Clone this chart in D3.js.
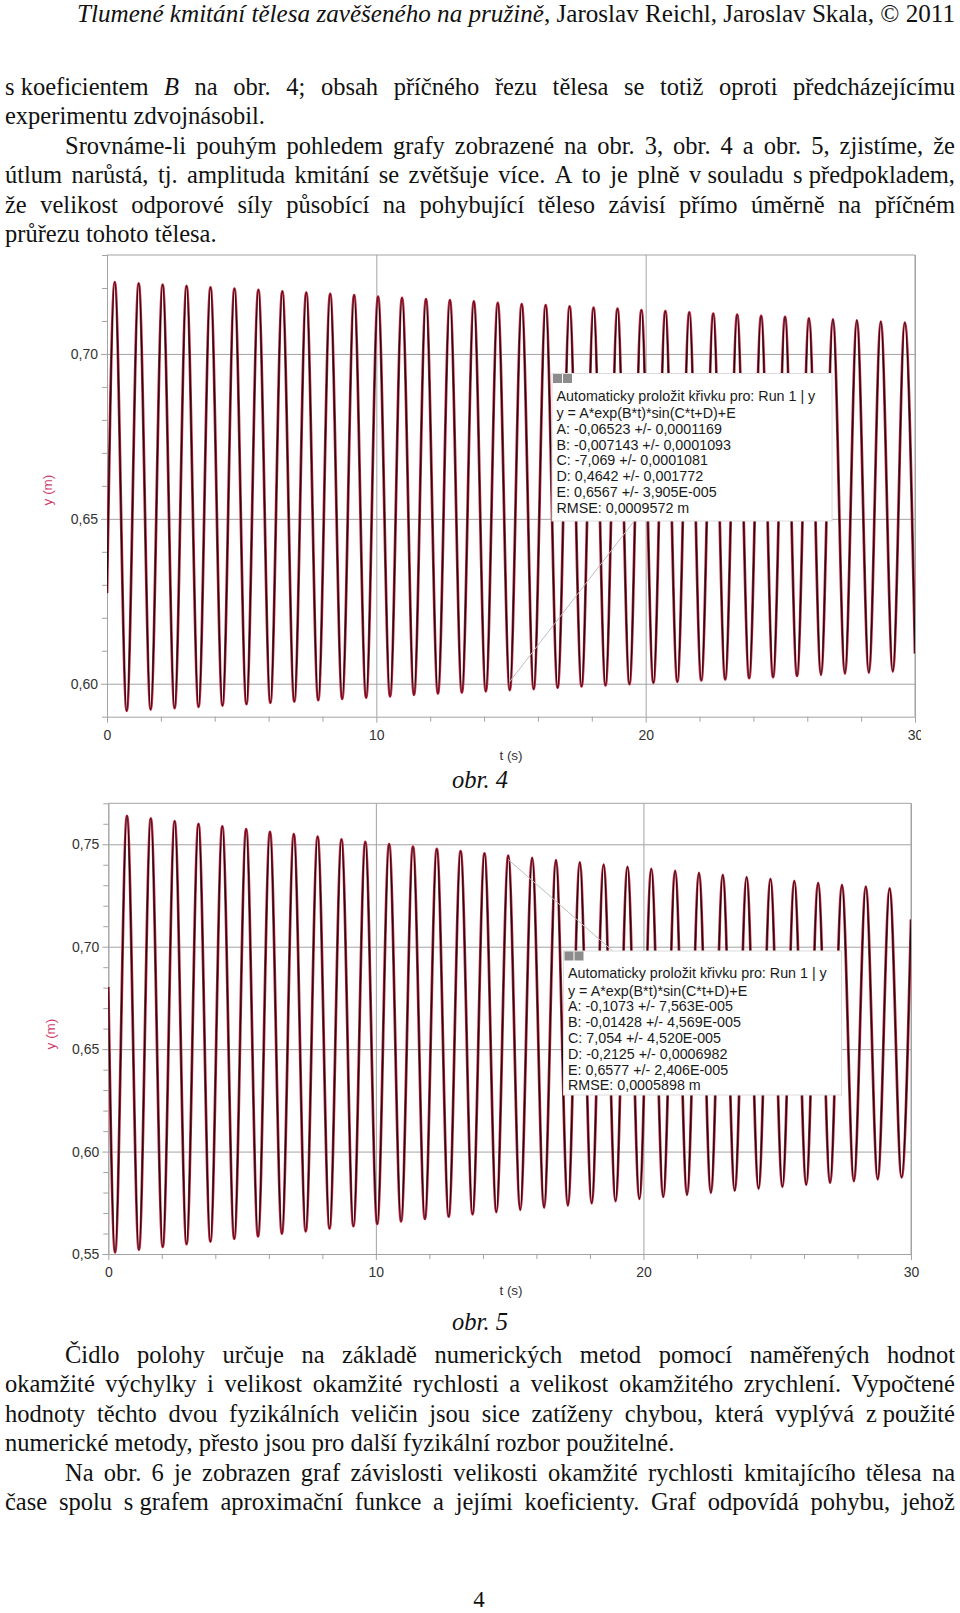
<!DOCTYPE html>
<html><head><meta charset="utf-8">
<script src="https://cdn.jsdelivr.net/npm/d3@7"></script>
<style>body{margin:0;background:#fff}svg{display:block}</style>
</head><body>
<script>
// ---------------- DATA ----------------
const headerTitle = "Tlumené kmitání tělesa zavěšeného na pružině";
const headerAuthors = ", Jaroslav Reichl, Jaroslav Skala, © 2011";

const para1 = [
  {t:"s\u00A0koeficientem _B_ na obr. 4; obsah příčného řezu tělesa se totiž oproti předcházejícímu", j:true, ind:false},
  {t:"experimentu zdvojnásobil.", j:false, ind:false},
  {t:"Srovnáme-li pouhým pohledem grafy zobrazené na obr. 3, obr. 4 a obr. 5, zjistíme, že", j:true, ind:true},
  {t:"útlum narůstá, tj. amplituda kmitání se zvětšuje více. A to je plně v\u00A0souladu s\u00A0předpokladem,", j:true, ind:false},
  {t:"že velikost odporové síly působící na pohybující těleso závisí přímo úměrně na příčném", j:true, ind:false},
  {t:"průřezu tohoto tělesa.", j:false, ind:false}
];
const para2 = [
  {t:"Čidlo polohy určuje na základě numerických metod pomocí naměřených hodnot", j:true, ind:true},
  {t:"okamžité výchylky i velikost okamžité rychlosti a velikost okamžitého zrychlení. Vypočtené", j:true, ind:false},
  {t:"hodnoty těchto dvou fyzikálních veličin jsou sice zatíženy chybou, která vyplývá z\u00A0použité", j:true, ind:false},
  {t:"numerické metody, přesto jsou pro další fyzikální rozbor použitelné.", j:false, ind:false},
  {t:"Na obr. 6 je zobrazen graf závislosti velikosti okamžité rychlosti kmitajícího tělesa na", j:true, ind:true},
  {t:"čase spolu s\u00A0grafem aproximační funkce a jejími koeficienty. Graf odpovídá pohybu, jehož", j:true, ind:false}
];
const caption4 = "obr. 4";
const caption5 = "obr. 5";
const pageNumber = "4";

const xTicks = [0, 10, 20, 30];
const xLabel = "t (s)";
const yLabel = "y (m)";
const fig4YTicks = [0.60, 0.65, 0.70];
const fig5YTicks = [0.55, 0.60, 0.65, 0.70, 0.75];

// obr. 4 : time (s) of start, extrema and end, and position y (m) at those times
const fig4T = [0, 0.288, 0.732, 1.177, 1.621, 2.066, 2.510, 2.954, 3.399, 3.843, 4.288, 4.732, 5.177, 5.621, 6.065, 6.510, 6.954, 7.399, 7.843, 8.287, 8.732, 9.176, 9.621, 10.065, 10.510, 10.954, 11.398, 11.843, 12.287, 12.732, 13.176, 13.621, 14.065, 14.509, 14.954, 15.398, 15.843, 16.287, 16.732, 17.176, 17.620, 18.065, 18.509, 18.954, 19.398, 19.842, 20.287, 20.731, 21.176, 21.620, 22.065, 22.509, 22.953, 23.398, 23.842, 24.287, 24.731, 25.175, 25.620, 26.064, 26.509, 26.953, 27.398, 27.842, 28.287, 28.731, 29.176, 29.620, 30];
const fig4Y = [0.6275, 0.7218, 0.5918, 0.7214, 0.5922, 0.7210, 0.5926, 0.7206, 0.5930, 0.7202, 0.5934, 0.7198, 0.5938, 0.7194, 0.5942, 0.7190, 0.5946, 0.7186, 0.5950, 0.7182, 0.5954, 0.7178, 0.5958, 0.7174, 0.5962, 0.7170, 0.5966, 0.7166, 0.5970, 0.7163, 0.5973, 0.7159, 0.5977, 0.7155, 0.5981, 0.7151, 0.5984, 0.7148, 0.5988, 0.7144, 0.5992, 0.7140, 0.5995, 0.7137, 0.5999, 0.7133, 0.6003, 0.7130, 0.6006, 0.7126, 0.6010, 0.7122, 0.6013, 0.7119, 0.6017, 0.7115, 0.6020, 0.7112, 0.6024, 0.7108, 0.6027, 0.7105, 0.6031, 0.7102, 0.6034, 0.7098, 0.6037, 0.7095, 0.6092];

// obr. 5
const fig5T = [0, 0.253, 0.698, 1.144, 1.589, 2.034, 2.480, 2.925, 3.370, 3.816, 4.261, 4.707, 5.152, 5.597, 6.042, 6.488, 6.933, 7.379, 7.824, 8.269, 8.715, 9.160, 9.605, 10.051, 10.496, 10.942, 11.387, 11.832, 12.278, 12.723, 13.168, 13.614, 14.059, 14.504, 14.950, 15.395, 15.841, 16.286, 16.731, 17.177, 17.622, 18.067, 18.513, 18.958, 19.404, 19.849, 20.294, 20.740, 21.185, 21.630, 22.076, 22.521, 22.966, 23.412, 23.857, 24.302, 24.748, 25.193, 25.639, 26.084, 26.529, 26.975, 27.420, 27.865, 28.311, 28.756, 29.202, 29.647, 30];
const fig5Y = [0.6803, 0.5508, 0.7639, 0.5521, 0.7626, 0.5535, 0.7613, 0.5548, 0.7600, 0.5561, 0.7587, 0.5574, 0.7574, 0.5586, 0.7561, 0.5599, 0.7549, 0.5611, 0.7537, 0.5624, 0.7524, 0.5636, 0.7512, 0.5647, 0.7501, 0.5659, 0.7489, 0.5671, 0.7477, 0.5682, 0.7466, 0.5694, 0.7455, 0.5705, 0.7444, 0.5716, 0.7433, 0.5727, 0.7422, 0.5737, 0.7411, 0.5748, 0.7401, 0.5758, 0.7390, 0.5769, 0.7380, 0.5779, 0.7370, 0.5789, 0.7360, 0.5799, 0.7350, 0.5809, 0.7340, 0.5819, 0.7331, 0.5828, 0.7321, 0.5838, 0.7312, 0.5847, 0.7302, 0.5856, 0.7293, 0.5865, 0.7284, 0.5874, 0.7133];

const fig4Fit = ["Automaticky proložit křivku pro: Run 1 | y", "y = A*exp(B*t)*sin(C*t+D)+E", "A: -0,06523 +/- 0,0001169", "B: -0,007143 +/- 0,0001093", "C: -7,069 +/- 0,0001081", "D: 0,4642 +/- 0,001772", "E: 0,6567 +/- 3,905E-005", "RMSE: 0,0009572 m"];
const fig5Fit = ["Automaticky proložit křivku pro: Run 1 | y", "y = A*exp(B*t)*sin(C*t+D)+E", "A: -0,1073 +/- 7,563E-005", "B: -0,01428 +/- 4,569E-005", "C: 7,054 +/- 4,520E-005", "D: -0,2125 +/- 0,0006982", "E: 0,6577 +/- 2,406E-005", "RMSE: 0,0005898 m"];

// leader lines of the fit boxes (t, y)
const fig4Leader = [[14.95, 0.6006], [19.60, 0.6496]];
const fig5Leader = [[14.95, 0.7425], [18.86, 0.6978]];

// ---------------- DRAWING ----------------
const W = 960, H = 1613;
const serif = "'Liberation Serif','Times New Roman',serif";
const sans = "'Liberation Sans',Arial,sans-serif";
const svg = d3.select("body").append("svg").attr("width", W).attr("height", H);
const locale = d3.formatLocale({decimal: ",", thousands: " ", grouping: [3], currency: ["", ""]});
const fmt2 = locale.format(".2f");

// header
const hdr = svg.append("text").attr("x", 77).attr("y", 22)
  .attr("font-family", serif).attr("font-size", 25.5).attr("fill", "#111");
hdr.append("tspan").attr("font-style", "italic").text(headerTitle);
hdr.append("tspan").text(headerAuthors);
hdr.attr("textLength", 878).attr("lengthAdjust", "spacingAndGlyphs");

// body text
const LEFT = 5, RIGHT = 955, INDENT = 65, FS = 24.5;
function drawLine(l, base) {
  const x0 = l.ind ? INDENT : LEFT;
  const g = svg.append("g").attr("font-family", serif).attr("font-size", FS).attr("fill", "#111");
  const words = l.t.split(" ");
  const nodes = words.map(w => {
    const it = /^_.*_$/.test(w);
    const txt = it ? w.slice(1, -1) : w;
    return g.append("text").attr("y", base).attr("font-style", it ? "italic" : null).text(txt);
  });
  const widths = nodes.map(n => n.node().getComputedTextLength());
  const sum = d3.sum(widths);
  let gap = FS * 0.25;
  if (l.j && words.length > 1) gap = (RIGHT - x0 - sum) / (words.length - 1);
  if (gap < 2) {
    // squeeze words slightly if the line is too long
    const k = (RIGHT - x0 - 2 * (words.length - 1)) / sum;
    nodes.forEach((n, i) => { n.attr("textLength", widths[i] * k).attr("lengthAdjust", "spacingAndGlyphs"); widths[i] *= k; });
    gap = 2;
  }
  let x = x0;
  nodes.forEach((n, i) => { n.attr("x", x); x += widths[i] + gap; });
}
para1.forEach((l, i) => drawLine(l, 95 + 29.4 * i));
para2.forEach((l, i) => drawLine(l, 1363 + 29.4 * i));

svg.append("text").attr("x", 480).attr("y", 788).attr("text-anchor", "middle")
  .attr("font-family", serif).attr("font-style", "italic").attr("font-size", FS).attr("fill", "#111").text(caption4);
svg.append("text").attr("x", 480).attr("y", 1330).attr("text-anchor", "middle")
  .attr("font-family", serif).attr("font-style", "italic").attr("font-size", FS).attr("fill", "#111").text(caption5);
svg.append("text").attr("x", 479).attr("y", 1607).attr("text-anchor", "middle")
  .attr("font-family", serif).attr("font-size", 23).attr("fill", "#111").text(pageNumber);

let clipN = 0;
function drawChart(c) {
  const outer = svg.append("g");
  if (c.clipRight) {
    const id = "cl" + (clipN++);
    svg.append("clipPath").attr("id", id).append("rect")
      .attr("x", 0).attr("y", c.yTop - 20).attr("width", c.clipRight).attr("height", c.yBottom - c.yTop + 80);
    outer.attr("clip-path", `url(#${id})`);
  }
  const x = d3.scaleLinear().domain([0, 30]).range([c.x0, c.x1]);
  const y = d3.scaleLinear().domain(c.yDomain).range([c.yBottom, c.yTop]);
  const grid = "#a3a3a3";
  const h = c.yBottom - c.yTop, w = c.x1 - c.x0;

  // gridlines
  outer.append("g").attr("transform", `translate(0,${c.yBottom})`).attr("color", grid)
    .call(d3.axisBottom(x).tickValues(xTicks).tickSize(-h).tickFormat(""))
    .call(g => g.select(".domain").remove());
  outer.append("g").attr("transform", `translate(${c.x0},0)`).attr("color", grid)
    .call(d3.axisLeft(y).tickValues(c.yMajor).tickSize(-w).tickFormat(""))
    .call(g => g.select(".domain").remove());
  // frame top & right
  outer.append("line").attr("x1", c.x0).attr("x2", c.x1).attr("y1", c.yTop).attr("y2", c.yTop).attr("stroke", grid);
  outer.append("line").attr("x1", c.x1).attr("x2", c.x1).attr("y1", c.yTop).attr("y2", c.yBottom).attr("stroke", grid);

  // minor ticks
  const xMinor = d3.range(0, 31, 2).filter(v => v % 10 !== 0);
  outer.append("g").attr("transform", `translate(0,${c.yBottom})`).attr("color", grid)
    .call(d3.axisBottom(x).tickValues(xMinor).tickSize(5).tickSizeOuter(0).tickFormat(""))
    .call(g => g.select(".domain").remove());
  const yMinor = d3.range(c.yMinorRange[0], c.yMinorRange[1] + 1).map(v => v / 100)
    .filter(v => !c.yMajor.some(m => Math.abs(m - v) < 1e-6));
  outer.append("g").attr("transform", `translate(${c.x0},0)`).attr("color", grid)
    .call(d3.axisLeft(y).tickValues(yMinor).tickSize(5).tickSizeOuter(0).tickFormat(""))
    .call(g => g.select(".domain").remove());

  // main axes with labels
  const ax = outer.append("g").attr("transform", `translate(0,${c.yBottom})`).attr("color", grid)
    .call(d3.axisBottom(x).tickValues(xTicks).tickSize(6).tickSizeOuter(0).tickPadding(7.5).tickFormat(d3.format("d")));
  ax.selectAll("text").attr("fill", "#333").attr("font-family", sans).attr("font-size", 14);
  ax.select(".domain").attr("stroke", grid);
  const ay = outer.append("g").attr("transform", `translate(${c.x0},0)`).attr("color", grid)
    .call(d3.axisLeft(y).tickValues(c.yMajor).tickSize(6).tickSizeOuter(0).tickPadding(3).tickFormat(fmt2));
  ay.selectAll("text").attr("fill", "#333").attr("font-family", sans).attr("font-size", 14);
  ay.select(".domain").attr("d", `M0.5,${c.yBottom}V${c.yTop}`);

  // axis titles
  outer.append("text").attr("transform", `translate(${c.yLab[0]},${c.yLab[1]}) rotate(-90)`)
    .attr("text-anchor", "middle").attr("dy", "0.35em").attr("font-family", sans).attr("font-size", 13.5)
    .attr("fill", "#d03c6a").text(yLabel);
  outer.append("text").attr("x", 511).attr("y", c.xLabBase).attr("text-anchor", "middle")
    .attr("font-family", sans).attr("font-size", 13.5).attr("fill", "#333").text(xLabel);

  // curves
  const id2 = "pc" + (clipN++);
  svg.append("clipPath").attr("id", id2).append("rect")
    .attr("x", c.x0).attr("y", c.yTop).attr("width", w).attr("height", h + 1);
  const plot = outer.append("g").attr("clip-path", `url(#${id2})`);
  const line = d3.line().x((d, i) => x(c.T[i])).y(d => y(d)).curve(d3.curveMonotoneX);
  plot.append("path").datum(c.Y).attr("d", line).attr("fill", "none")
    .attr("stroke", "#c8203c").attr("stroke-width", 2.8).attr("stroke-linejoin", "round");
  plot.append("path").datum(c.Y).attr("d", line).attr("fill", "none")
    .attr("stroke", "#111").attr("stroke-width", 1.3).attr("stroke-linejoin", "round");

  // leader
  plot.append("line")
    .attr("x1", x(c.leader[0][0])).attr("y1", y(c.leader[0][1]))
    .attr("x2", x(c.leader[1][0])).attr("y2", y(c.leader[1][1]))
    .attr("stroke", "#bdbdbd").attr("stroke-width", 1);

  // fit box
  const b = c.box;
  const bg = outer.append("g");
  bg.append("rect").attr("x", b.x).attr("y", b.y).attr("width", b.w).attr("height", b.h)
    .attr("fill", "#fff").attr("stroke", "#dcdcdc").attr("stroke-width", 1);
  bg.append("rect").attr("x", b.x + 1).attr("y", b.y + 0.5).attr("width", 9).attr("height", 9).attr("fill", "#8c8c8c");
  bg.append("rect").attr("x", b.x + 11).attr("y", b.y + 0.5).attr("width", 9).attr("height", 9).attr("fill", "#8c8c8c");
  const offs = [27, 44.5, 60, 76, 91.8, 107.5, 123.5, 139.3];
  c.fit.forEach((s, i) => {
    bg.append("text").attr("x", b.x + 4.5).attr("y", b.y + offs[i])
      .attr("font-family", sans).attr("font-size", 14.3).attr("fill", "#1a1a1a").text(s);
  });
}

drawChart({
  x0: 107, x1: 915, yTop: 255, yBottom: 716.7, yDomain: [0.59, 0.73],
  yMajor: fig4YTicks, yMinorRange: [59, 73], clipRight: 921,
  T: fig4T, Y: fig4Y, fit: fig4Fit, leader: fig4Leader,
  box: {x: 552, y: 373.5, w: 280, h: 147.5}, yLab: [47, 490], xLabBase: 760
});
drawChart({
  x0: 108.3, x1: 911, yTop: 803.3, yBottom: 1254, yDomain: [0.55, 0.77],
  yMajor: fig5YTicks, yMinorRange: [55, 77], clipRight: null,
  T: fig5T, Y: fig5Y, fit: fig5Fit, leader: fig5Leader,
  box: {x: 563.5, y: 951, w: 278, h: 144}, yLab: [50, 1034], xLabBase: 1295
});
</script>
</body></html>
